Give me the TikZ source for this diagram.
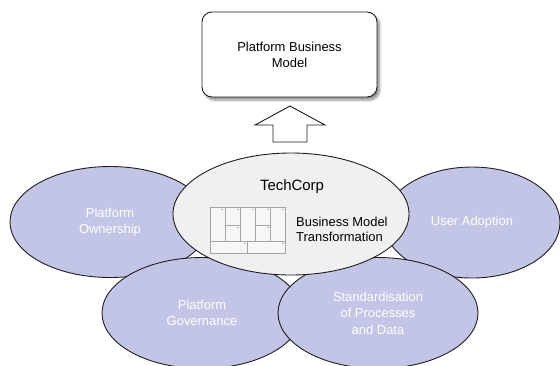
\documentclass[tikz,border=0pt]{standalone}
\usepackage{fontspec}
\setmainfont{Liberation Sans}
\usetikzlibrary{shapes.geometric,shadows.blur}
\definecolor{petal}{RGB}{194,197,229}
\definecolor{core}{RGB}{240,240,240}
\definecolor{edge}{RGB}{30,30,30}
\definecolor{gridline}{RGB}{165,165,165}
\begin{document}
\begin{tikzpicture}[x=1bp,y=-1bp,
  petalnode/.style={ellipse, draw=edge, line width=0.9bp, fill=petal,
    minimum width=200bp, minimum height=111bp, inner sep=0pt,
    text=white, align=center, font=\fontsize{13}{16.5}\selectfont},
  corenode/.style={ellipse, draw=edge, line width=0.9bp, fill=core,
    minimum width=236bp, minimum height=122bp, inner sep=0pt},
  goalbox/.style={draw=edge, line width=0.9bp, fill=white, rounded corners=10bp,
    minimum width=175bp, minimum height=85bp, align=center,
    font=\fontsize{13}{16}\selectfont,
    blur shadow={shadow xshift=2.5bp, shadow yshift=-3bp, shadow blur steps=6, shadow blur radius=2.5bp, shadow opacity=45}},
  blockarrow/.style={draw=edge, line width=0.9bp, fill=white, line join=miter},
  canvasline/.style={draw=gridline, line width=0.6bp},
  canvasmark/.style={fill=gridline!80}
]
\useasboundingbox (0,0) rectangle (560,365);

% outer ring of focus areas
\node[petalnode] (own) at (110,222) {Platform\\Ownership};
\node[petalnode, minimum width=176bp] (adopt) at (472,222.5) {User Adoption};
\node[petalnode] (gov) at (202,313) {Platform\\Governance};
\node[petalnode] (std) at (378,313) {Standardisation\\of Processes\\and Data};

% central transformation ellipse
\node[corenode] (core) at (291,214) {};
\node[font=\fontsize{15}{18}\selectfont] (corp) at (292,187) {TechCorp};
\node[anchor=west, align=left, inner sep=0pt, font=\fontsize{13}{15.5}\selectfont] (bmt) at (296,229.5) {Business Model\\Transformation};

% business model canvas sketch
\filldraw[canvasline, fill=core!60!white] (210,207) rectangle (285,253);
\draw[canvasline] (225,207) -- (225,241)
                  (240,207) -- (240,241)
                  (255,207) -- (255,241)
                  (270,207) -- (270,241)
                  (210,241) -- (285,241)
                  (225,225) -- (240,225)
                  (255,225) -- (270,225)
                  (247,241) -- (247,253);
\foreach \mx/\my in {222/209.5, 237.5/209.5, 252.5/209.5, 267.5/209.5, 283/209.5,
                     237.5/227.5, 267.5/227.5, 245/243.5, 283/243.5}
  \fill[canvasmark] (\mx-1,\my-0.8) rectangle (\mx+1,\my+0.8);

% target model
\node[goalbox] (goal) at (289.5,54.5) {Platform Business\\Model};

% block arrow from the transformation up to the target
\draw[blockarrow] (290,106) -- (325,125) -- (307,125) -- (307,142)
                  -- (273,142) -- (273,125) -- (255,125) -- cycle;
\end{tikzpicture}
\end{document}
